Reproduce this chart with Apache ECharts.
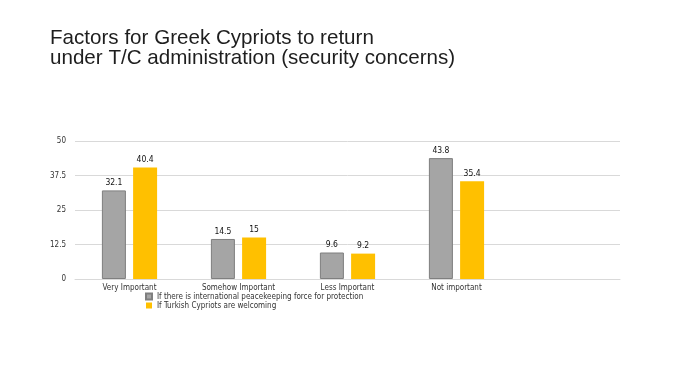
<!DOCTYPE html>
<html><head><meta charset="utf-8">
<script src="https://cdn.jsdelivr.net/npm/echarts@6/dist/echarts.min.js"></script>
<style>html,body{margin:0;padding:0;background:#fff}#c{width:694px;height:392px}</style>
</head><body><div id="c"></div>
<script>
const categories = ['Very Important', 'Somehow Important', 'Less Important', 'Not important', ''];
const seriesNames = ['If there is international peacekeeping force for protection', 'If Turkish Cypriots are welcoming'];
const peacekeeping = [32.1, 14.5, 9.6, 43.8, null];
const welcoming = [40.4, 15, 9.2, 35.4, null];
const yTicks = [0, 12.5, 25, 37.5, 50];
const titleLines = ['Factors for Greek Cypriots to return', 'under T/C administration (security concerns)'];

const chart = echarts.init(document.getElementById('c'));
const smallFont = 'DejaVu Sans Condensed';
chart.setOption({
  animation: false,
  backgroundColor: '#fff',
  title: {
    text: titleLines.join('\n'),
    left: 50, top: 28, padding: 0,
    textStyle: { fontFamily: 'Liberation Sans', fontSize: 20.6, fontWeight: 'normal', color: '#1e1e1e', lineHeight: 20 }
  },
  legend: {
    orient: 'vertical', left: 145, top: 292, padding: 0,
    itemWidth: 6, itemHeight: 6, itemGap: 0,
    icon: 'rect',
    textStyle: { fontFamily: smallFont, fontSize: 8, color: '#333', lineHeight: 9, padding: [0, 0, 0, 0] },
    data: seriesNames
  },
  grid: { left: 75, right: 74, top: 141, bottom: 113, containLabel: false },
  xAxis: {
    type: 'category', data: categories,
    axisLine: { show: true, lineStyle: { color: '#d9d9d9' } },
    axisTick: { show: false },
    axisLabel: { fontFamily: smallFont, fontSize: 8, color: '#333', margin: 5, interval: 0 }
  },
  yAxis: {
    type: 'value', min: yTicks[0], max: yTicks[yTicks.length - 1], interval: 12.5,
    axisLine: { show: false }, axisTick: { show: false },
    splitLine: { lineStyle: { color: '#d9d9d9' } },
    axisLabel: { fontFamily: smallFont, fontSize: 8, color: '#333', margin: 9 }
  },
  series: [
    {
      name: seriesNames[0], type: 'bar', data: peacekeeping,
      barWidth: 24, barGap: '30%',
      itemStyle: { color: '#a5a5a5', borderColor: '#7f7f7f', borderWidth: 1 },
      label: { show: true, position: 'top', distance: 3, fontFamily: smallFont, fontSize: 8.5, color: '#111' }
    },
    {
      name: seriesNames[1], type: 'bar', data: welcoming,
      barWidth: 24,
      itemStyle: { color: '#ffc000' },
      label: { show: true, position: 'top', distance: 3, fontFamily: smallFont, fontSize: 8.5, color: '#111' }
    }
  ]
});
</script></body></html>
